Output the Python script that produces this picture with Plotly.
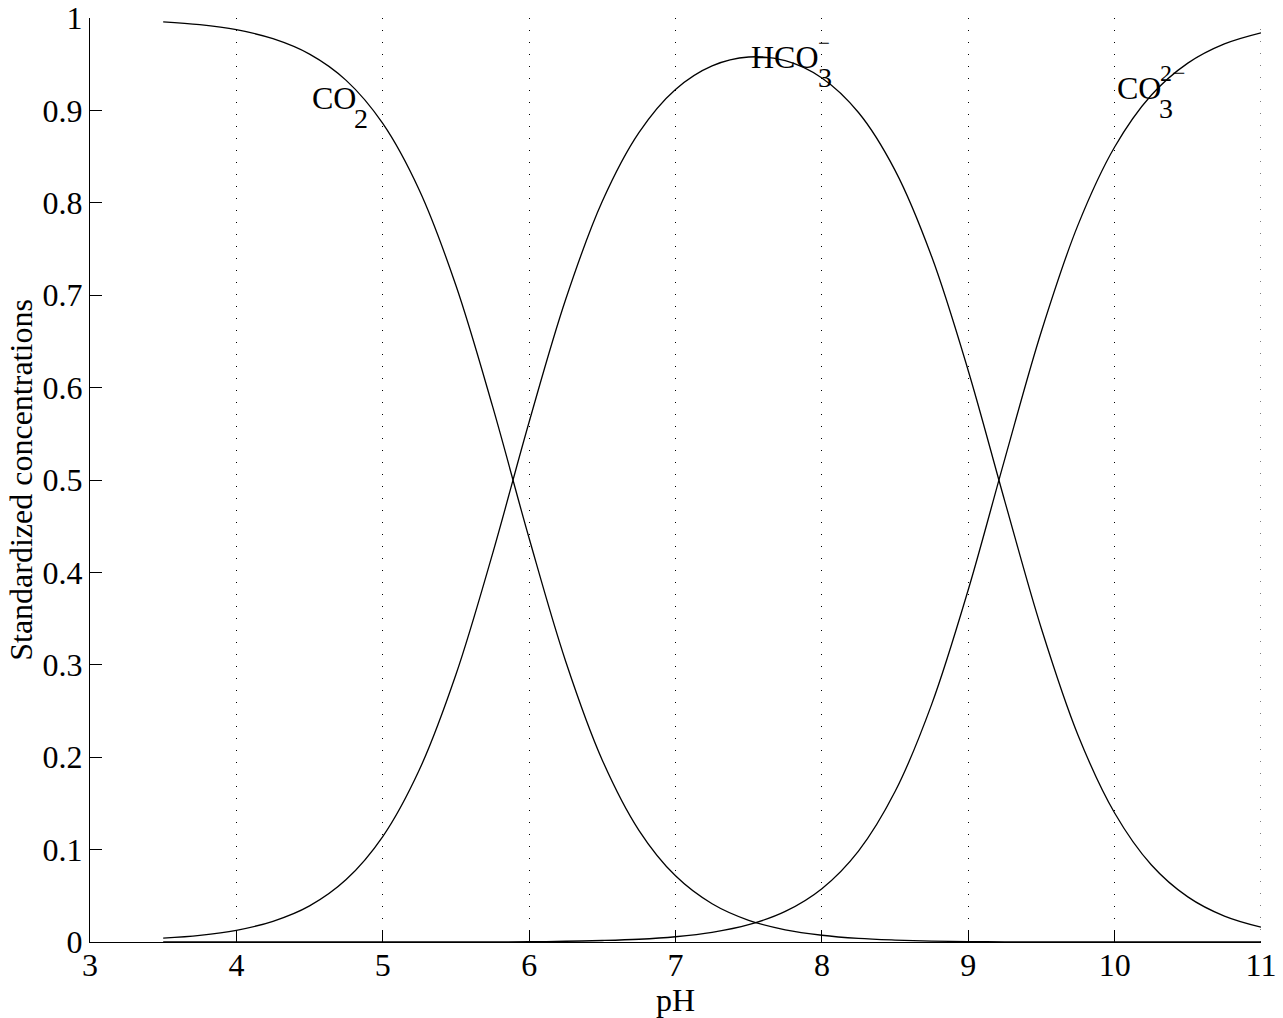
import plotly.graph_objects as go

# pH sample points
ph = [3.5, 3.75, 4.0, 4.25, 4.5, 4.75, 5.0, 5.25, 5.5, 5.75, 6.0, 6.25, 6.5, 6.75,
      7.0, 7.25, 7.5, 7.75, 8.0, 8.25, 8.5, 8.75, 9.0, 9.25, 9.5, 9.75, 10.0,
      10.25, 10.5, 10.75, 11.0]

co2 = [0.9959, 0.9928, 0.9873, 0.9776, 0.9609, 0.9325, 0.8859, 0.8136, 0.7105,
       0.5799, 0.4369, 0.3036, 0.1968, 0.1209, 0.0716, 0.0414, 0.0235, 0.0132,
       0.0073, 0.0039, 0.0021, 0.0010, 0.0005, 0.0002, 0.0001, 0.0000, 0.0000,
       0.0000, 0.0000, 0.0000, 0.0000]

hco3 = [0.0041, 0.0072, 0.0127, 0.0224, 0.0391, 0.0676, 0.1141, 0.1864, 0.2895,
        0.4201, 0.5628, 0.6956, 0.8017, 0.8760, 0.9227, 0.9482, 0.9578, 0.9538,
        0.9351, 0.8977, 0.8351, 0.7418, 0.6183, 0.4769, 0.3390, 0.2238, 0.1396,
        0.0836, 0.0488, 0.0280, 0.0160]

co3 = [0.0000, 0.0000, 0.0000, 0.0000, 0.0000, 0.0000, 0.0000, 0.0000, 0.0001,
       0.0001, 0.0003, 0.0008, 0.0016, 0.0030, 0.0057, 0.0104, 0.0187, 0.0331,
       0.0577, 0.0984, 0.1628, 0.2572, 0.3812, 0.5229, 0.6610, 0.7761, 0.8604,
       0.9164, 0.9512, 0.9720, 0.9840]

x_ticks = [3, 4, 5, 6, 7, 8, 9, 10, 11]
x_ticktext = ["3", "4", "5", "6", "7", "8", "9", "10", "11"]
y_ticks = [0, 0.1, 0.2, 0.3, 0.4, 0.5, 0.6, 0.7, 0.8, 0.9, 1]
y_ticktext = ["0", "0.1", "0.2", "0.3", "0.4", "0.5", "0.6", "0.7", "0.8", "0.9", "1"]

# curve labels: (x, y, main text, subscript, superscript)
labels = [
    (4.5, 0.9134, "CO", "2", ""),
    (7.5, 0.9576, "HCO", "3", "\u2212"),
    (10.0, 0.9239, "CO", "3", "2\u2212"),
]

FONT = "Liberation Serif, Times New Roman, serif"
FS = 32

fig = go.Figure()
for name, ys in [("CO2", co2), ("HCO3-", hco3), ("CO3 2-", co3)]:
    fig.add_trace(go.Scatter(x=ph, y=ys, mode="lines", name=name,
                             line=dict(color="black", width=1.3, shape="spline"),
                             showlegend=False, hoverinfo="skip"))

ADV = {"CO": 44, "HCO": 67}
annotations = []
for (lx, ly, main, sub, sup) in labels:
    common = dict(xref="x", yref="y", x=lx, y=ly, xanchor="left", yanchor="middle",
                  showarrow=False)
    annotations.append(dict(text=main, font=dict(family=FONT, size=FS, color="black"),
                            **common))
    annotations.append(dict(text=sub, xshift=ADV[main] if main == "HCO" else ADV[main] - 2,
                            yshift=-20,
                            font=dict(family=FONT, size=28, color="black"), **common))
    if sup:
        annotations.append(dict(text=sup, xshift=ADV[main] if main == "HCO" else ADV[main] - 1,
                                yshift=14 if main == "HCO" else 15,
                                font=dict(family=FONT, size=21 if main == "HCO" else 24,
                                          color="black"), **common))

grid_style = dict(color="black", width=1, dash="1px,11px")
shapes = [dict(type="line", xref="x", yref="paper", x0=x_ticks[-1], x1=x_ticks[-1],
               y0=0, y1=1, line=grid_style, layer="below")]

fig.update_layout(
    width=1283, height=1018,
    margin=dict(l=90, r=22, t=18, b=76),
    paper_bgcolor="white", plot_bgcolor="white",
    font=dict(family=FONT, size=FS, color="black"),
    annotations=annotations,
    shapes=shapes,
    xaxis=dict(range=[3, 11], tickvals=x_ticks, ticktext=x_ticktext,
               ticks="inside", ticklen=12, tickwidth=1, tickcolor="black",
               showline=True, linecolor="black", linewidth=1,
               showgrid=True, gridcolor="black", gridwidth=1, griddash="1px,11px",
               zeroline=False, automargin=False, ticklabeloverflow="allow",
               ticklabelstandoff=-5,
               title=dict(text="pH", font=dict(size=FS), standoff=0),
               tickfont=dict(size=FS), fixedrange=True),
    yaxis=dict(range=[0, 1], tickvals=y_ticks, ticktext=y_ticktext,
               ticks="inside", ticklen=12, tickwidth=1, tickcolor="black",
               showline=True, linecolor="black", linewidth=1,
               showgrid=False, zeroline=False, automargin=False,
               ticklabeloverflow="allow",
               title=dict(text="Standardized concentrations", font=dict(size=FS), standoff=0),
               tickfont=dict(size=FS), fixedrange=True),
)

fig.write_html("out.html", config={"displayModeBar": False},
               post_script="document.body.style.margin='0';document.body.style.overflow='hidden';")
